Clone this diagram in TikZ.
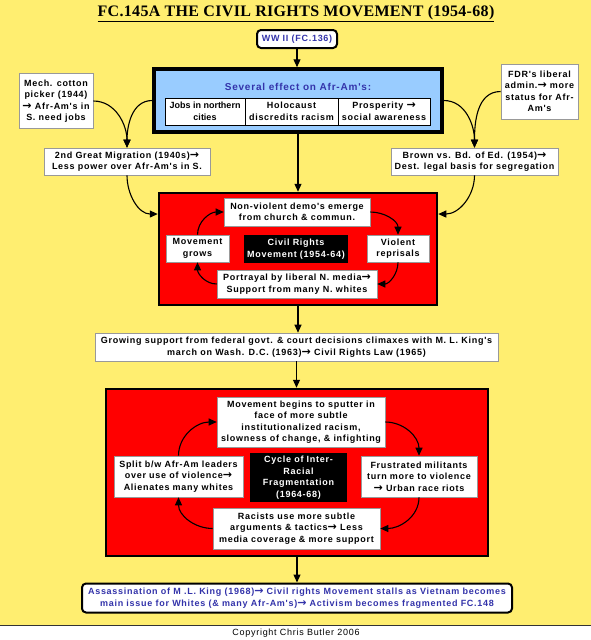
\documentclass[tikz,border=0pt]{standalone}
\usepackage{fontspec}
\setmainfont{Liberation Sans}
\newfontfamily\boxfont[LetterSpace=8]{Liberation Sans}
\newfontfamily\titlefont[LetterSpace=2]{Liberation Serif}
\newfontfamily\symfont{DejaVu Sans}
\newcommand{\rarr}{{\symfont\bfseries\fontsize{11}{11}\selectfont →}}
\usetikzlibrary{arrows.meta, positioning}
\definecolor{bgyellow}{RGB}{255,238,112}
\definecolor{skyblue}{RGB}{153,204,255}
\definecolor{inkblue}{RGB}{51,51,170}
\definecolor{boxred}{RGB}{255,0,0}

\begin{document}
\begin{tikzpicture}[x=1pt, y=-1pt,
    txt/.style={font=\boxfont\fontsize{9}{11.5}\selectfont\bfseries, align=center, inner sep=0pt},
    wbox/.style={txt, rectangle, draw=gray!80, line width=0.6pt, fill=white},
    dbox/.style={txt, rectangle, fill=black, text=white},
    redbox/.style={rectangle, draw=black, line width=2.5pt, fill=boxred},
    linkbox/.style={txt, rectangle, rounded corners=4pt, draw=black, line width=2pt, fill=white, text=inkblue},
    arr/.style={-{Triangle[length=8pt,width=7pt]}, line width=1.1pt}
]
    % page
    \useasboundingbox (0,0) rectangle (591,640);
    \fill[bgyellow] (0,0) rectangle (591,625);
    \draw[black!80, line width=0.8pt] (0,625) -- (591,625);
    \node[font=\titlefont\fontsize{16}{18}\selectfont\bfseries] (title) at (296,14) {\underline{FC.145A THE CIVIL RIGHTS MOVEMENT (1954-68)}};
    \node[font=\boxfont\fontsize{9}{10}\selectfont] (copy) at (296,633) {Copyright Chris Butler 2006};

    % top part
    \node[linkbox, minimum width=80pt, minimum height=18pt] (ww) at (297,39) {WW II (FC.136)};
    \node[rectangle, draw=black, line width=3.5pt, fill=skyblue, minimum width=288pt, minimum height=63pt] (eff) at (298,100.5) {};
    \node[txt, text=inkblue, font=\boxfont\fontsize{10}{12}\selectfont\bfseries] (efft) at (298,87) {Several effect on Afr-Am's:};
    \node[wbox, draw=black, font=\fontsize{9}{11.5}\selectfont\bfseries, minimum width=80pt, minimum height=27pt] (jobs) at (205,111.5) {Jobs in northern\\cities};
    \node[wbox, draw=black, minimum width=93pt, minimum height=27pt] (holo) at (291.5,111.5) {Holocaust\\discredits racism};
    \node[wbox, draw=black, minimum width=92pt, minimum height=27pt] (pros) at (384,111.5) {Prosperity \rarr\\social awareness};
    \node[wbox, minimum width=74pt, minimum height=55pt] (mech) at (56,101) {Mech. cotton\\picker (1944)\\\rarr{} Afr-Am's in\\S. need jobs};
    \node[wbox, minimum width=77pt, minimum height=55pt] (fdr) at (539.5,91.5) {FDR's liberal\\admin.\rarr{} more\\status for Afr-\\Am's};
    \node[wbox, minimum width=166pt, minimum height=27pt] (mig) at (127,161.5) {2nd Great Migration (1940s)\rarr\\Less power over Afr-Am's in S.};
    \node[wbox, minimum width=167pt, minimum height=27pt] (brown) at (474.5,161.5) {Brown vs. Bd. of Ed. (1954)\rarr\\Dest. legal basis for segregation};

    % first cycle
    \node[redbox, minimum width=278pt, minimum height=112pt] (red1) at (298,249) {};
    \node[wbox, minimum width=146pt, minimum height=28pt] (nonv) at (297,212) {Non-violent demo's emerge\\from church \& commun.};
    \node[wbox, minimum width=63pt, minimum height=27pt] (grows) at (197.5,248.5) {Movement\\grows};
    \node[dbox, minimum width=104pt, minimum height=28pt] (crm) at (296,249) {Civil Rights\\Movement (1954-64)};
    \node[wbox, minimum width=62pt, minimum height=27pt] (viol) at (398,248.5) {Violent\\reprisals};
    \node[wbox, minimum width=160pt, minimum height=28pt] (port) at (297,284) {Portrayal by liberal N. media\rarr\\Support from many N. whites};

    \node[wbox, minimum width=403pt, minimum height=28pt] (supp) at (296.5,347) {Growing support from federal govt. \& court decisions climaxes with M. L. King's\\march on Wash. D.C. (1963)\rarr{} Civil Rights Law (1965)};

    % second cycle
    \node[redbox, minimum width=382pt, minimum height=167pt] (red2) at (297,472.5) {};
    \node[wbox, minimum width=168pt, minimum height=50pt] (sput) at (301,422) {Movement begins to sputter in\\face of more subtle\\institutionalized racism,\\slowness of change, \& infighting};
    \node[wbox, minimum width=129pt, minimum height=41pt] (split) at (178.5,476.5) {Split b/w Afr-Am leaders\\over use of violence\rarr\\Alienates many whites};
    \node[dbox, minimum width=97pt, minimum height=49pt] (cyc) at (298.5,477.5) {Cycle of Inter-\\Racial\\Fragmentation\\(1964-68)};
    \node[wbox, minimum width=116pt, minimum height=41pt] (frus) at (419,476.5) {Frustrated militants\\turn more to violence\\\rarr{} Urban race riots};
    \node[wbox, minimum width=167pt, minimum height=41pt] (rac) at (296.5,528.5) {Racists use more subtle\\arguments \& tactics\rarr{} Less\\media coverage \& more support};

    \node[linkbox, minimum width=430pt, minimum height=29pt] (end) at (297,598) {Assassination of M .L. King (1968)\rarr{} Civil rights Movement stalls as Vietnam becomes\\main issue for Whites (\& many Afr-Am's)\rarr{} Activism becomes fragmented FC.148};

    % connectors
    \draw[arr] (ww) -- (ww |- eff.north);
    \draw[arr] (mech.east) to[out=0, in=90] (mig.north);
    \draw[arr] (eff.west) to[out=180, in=90] (mig.north);
    \draw[arr] (fdr.west) to[out=180, in=90] (brown.north);
    \draw[arr] (eff.east) to[out=0, in=90] (brown.north);
    \draw[arr] (eff) -- (red1);
    \draw[arr] (mig.south) to[out=-90, in=180] (red1.166);
    \draw[arr] (brown.south) to[out=-90, in=0] (red1.14);
    \draw[arr] (nonv.east) to[out=0, in=90] (viol.north);
    \draw[arr] (viol.south) to[out=-90, in=0] (port.east);
    \draw[arr] (port.west) to[out=180, in=-90] (grows.south);
    \draw[arr] (grows.north) to[out=90, in=180] (nonv.west);
    \draw[arr] (red1) -- (red1 |- supp.north);
    \draw[arr] (supp) -- (supp |- red2.north);
    \draw[arr] (sput.east) to[out=0, in=90] (frus.north);
    \draw[arr] (frus.south) to[out=-90, in=0] (rac.east);
    \draw[arr] (rac.west) to[out=180, in=-90] (split.south);
    \draw[arr] (split.north) to[out=90, in=180] (sput.west);
    \draw[arr] (red2) -- (end);
\end{tikzpicture}
\end{document}
